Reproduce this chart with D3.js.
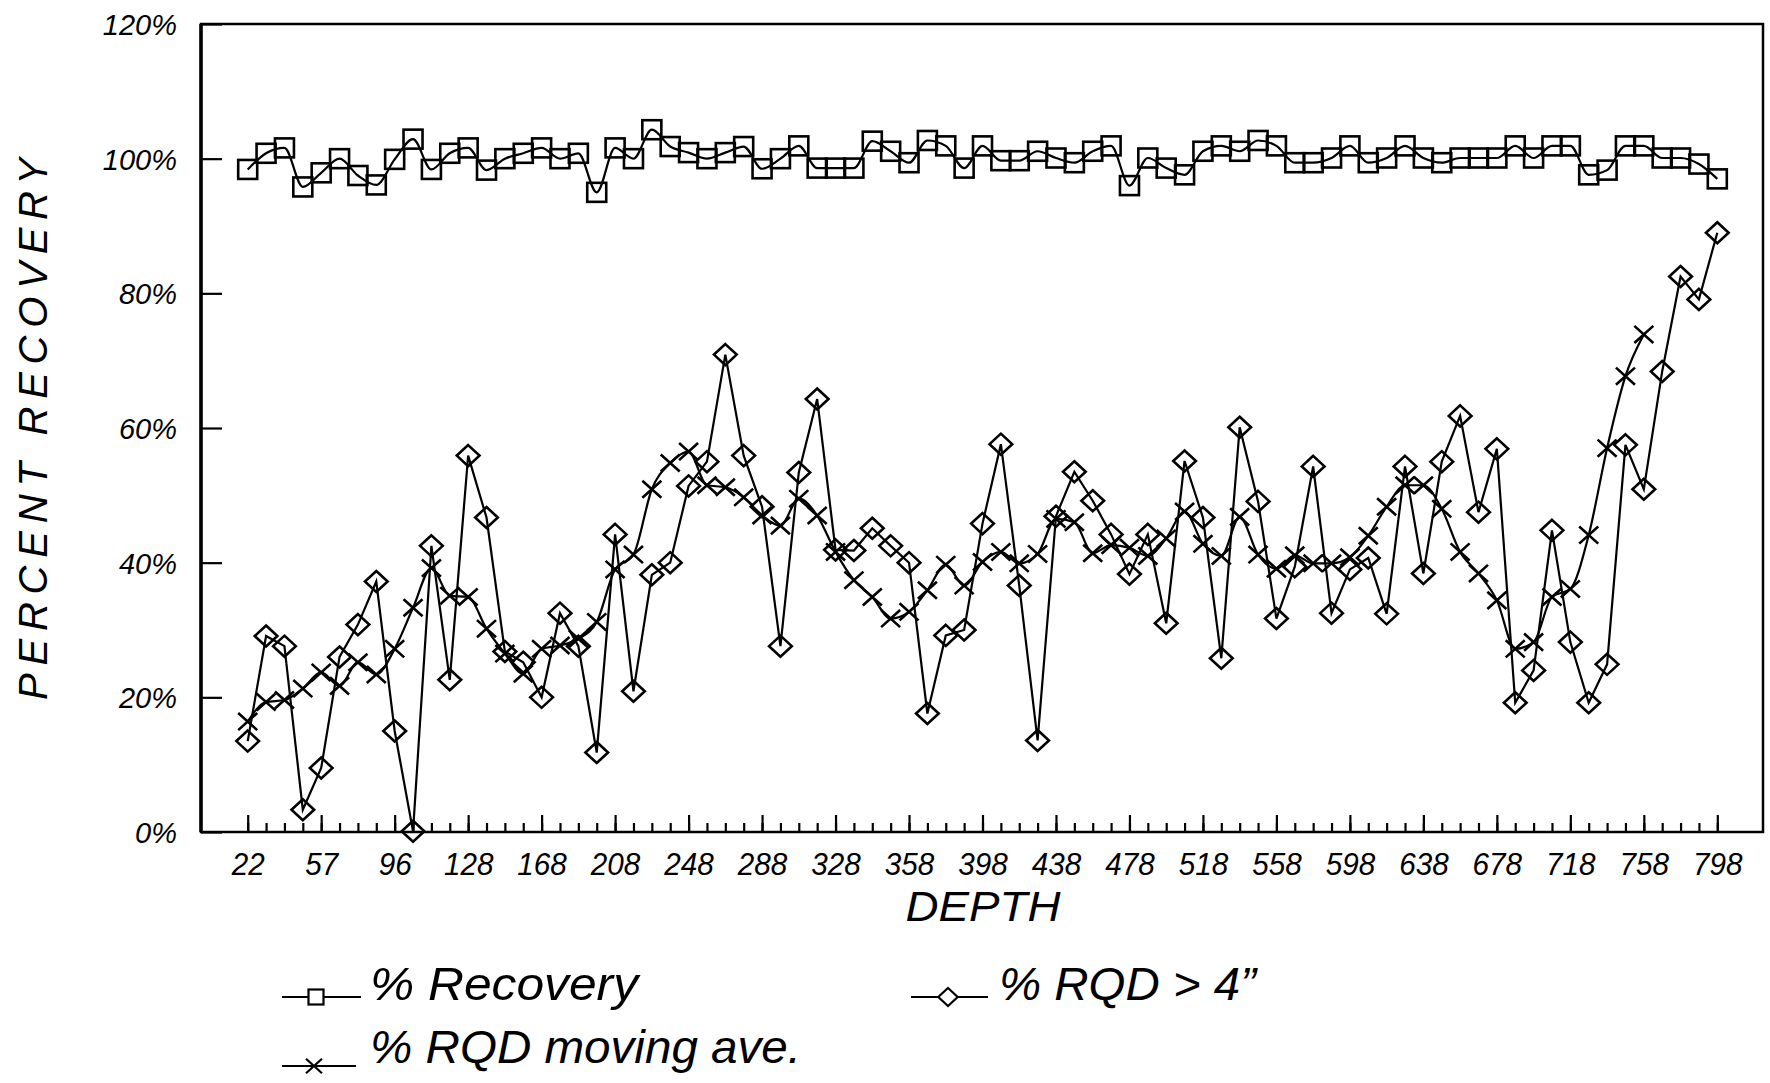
<!DOCTYPE html>
<html>
<head>
<meta charset="utf-8">
<script src="https://cdn.jsdelivr.net/npm/d3@7"></script>
<style>
  body { margin: 0; background: #fff; }
  svg text { font-family: "Liberation Sans", Arial, sans-serif; font-style: italic; fill: #000; }
</style>
</head>
<body>
<svg id="chart" width="1770" height="1083"></svg>
<script>
// depth labels, one every 4 samples
const depthLabels = [22, 57, 96, 128, 168, 208, 248, 288, 328, 358, 398, 438, 478, 518, 558, 598, 638, 678, 718, 758, 798];
const pointsPerLabel = 4;

const recovery = [
  98.4, 100.8, 101.6, 95.8, 97.9, 100, 97.5, 96.1, 99.9, 102.9,
  98.4, 100.8, 101.6, 98.3, 100, 100.8, 101.6, 100, 100.8, 95,
  101.6, 100, 104.3, 101.8, 100.9, 100, 100.9, 101.8, 98.5, 100,
  101.9, 98.6, 98.6, 98.6, 102.6, 101.1, 99.4, 102.7, 101.9, 98.6,
  101.9, 99.7, 99.7, 101.1, 100.1, 99.4, 101.1, 101.9, 96, 100.1,
  98.6, 97.6, 101.1, 101.9, 101.1, 102.7, 101.9, 99.4, 99.4, 100.1,
  101.9, 99.4, 100.1, 101.9, 100.1, 99.4, 100.1, 100.1, 100.1, 101.9,
  100.1, 101.9, 101.9, 97.6, 98.3, 101.9, 101.9, 100.1, 100.1, 99.2,
  97
];

const rqd = [
  13.5, 29.1, 27.6, 3.3, 9.5, 26, 30.8, 37.2, 15, 0.1,
  42.5, 22.6, 55.9, 46.7, 26.8, 25.2, 20, 32.5, 27.6, 11.8,
  44.2, 20.9, 38.2, 40, 51.4, 55, 70.9, 55.9, 48.3, 27.6,
  53.4, 64.3, 41.9, 41.8, 45.1, 42.5, 40, 17.6, 29.2, 30,
  45.8, 57.6, 36.6, 13.6, 46.9, 53.5, 49.2, 44.2, 38.3, 44.2,
  31, 55.1, 46.7, 25.8, 60.1, 49.1, 31.7, 39.4, 54.3, 32.5,
  39, 40.7, 32.4, 54.3, 38.4, 55, 61.8, 47.5, 56.9, 19.2,
  24, 44.8, 28.2, 19.2, 24.9, 57.5, 50.9, 68.4, 82.5, 79.1,
  89
];

const rqdMovingAve = [
  16.4, 19.3, 19.6, 21.3, 23.7, 21.7, 25.2, 23.4, 27.2, 33.3,
  39.2, 35.1, 34.9, 30.2, 26.5, 23.5, 27.2, 27.7, 28.7, 31.2,
  39, 41.2, 50.9, 54.8, 56.5, 51.5, 51.2, 49.7, 47, 45.5,
  49.5, 47, 41.6, 37.4, 34.9, 31.7, 32.7, 35.9, 39.7, 36.6,
  40.1, 41.6, 39.9, 41.3, 46.5, 46, 41.4, 42.6, 42.2, 41,
  43.6, 47.6, 42.8, 41, 46.8, 41.2, 39.1, 41.1, 39.9, 39.9,
  40.8, 44, 48.3, 51.5, 51.5, 48, 41.6, 38.4, 34.4, 27.2,
  28.2, 34.9, 36.1, 44.1, 57, 67.7, 73.9
];

const yTicks = [0, 20, 40, 60, 80, 100, 120];

const svg = d3.select("#chart");
const frame = {left: 201, right: 1763, top: 24, bottom: 832};

const n = recovery.length;
const x = d3.scalePoint().domain(d3.range(n)).range([247.7, 1717.3]);
const y = d3.scaleLinear().domain([0, 120]).range([frame.bottom, frame.top]);

// frame
svg.append("rect")
  .attr("x", frame.left).attr("y", frame.top)
  .attr("width", frame.right - frame.left).attr("height", frame.bottom - frame.top)
  .attr("fill", "none").attr("stroke", "#000").attr("stroke-width", 2.5);
svg.append("line")
  .attr("x1", frame.left).attr("x2", frame.left).attr("y1", frame.top).attr("y2", frame.bottom)
  .attr("stroke", "#000").attr("stroke-width", 3.5);

// x axis: minor ticks every sample, major every label
const minorAxis = svg.append("g")
  .attr("transform", `translate(0,${frame.bottom})`)
  .call(d3.axisBottom(x).tickValues(d3.range(n)).tickSize(-9).tickFormat(""));
const majorAxis = svg.append("g")
  .attr("transform", `translate(0,${frame.bottom})`)
  .call(d3.axisBottom(x)
    .tickValues(d3.range(0, n, pointsPerLabel))
    .tickSize(-17).tickPadding(20)
    .tickFormat(i => depthLabels[i / pointsPerLabel]));
majorAxis.selectAll("text")
  .attr("font-size", 32)
  .attr("textLength", function () { return this.textContent.length * 16.5; })
  .attr("lengthAdjust", "spacingAndGlyphs");

// y axis
const yAxis = svg.append("g")
  .attr("transform", `translate(${frame.left},0)`)
  .call(d3.axisLeft(y).tickValues(yTicks).tickSize(-21).tickPadding(24).tickFormat(d => d + "%"));
yAxis.selectAll("text").attr("font-size", 29).attr("dy", "0.36em");

[minorAxis, majorAxis, yAxis].forEach(g => {
  g.select(".domain").remove();
  g.selectAll("line").attr("stroke", "#000").attr("stroke-width", 2.2);
});

// axis titles
svg.append("text")
  .attr("transform", "translate(47,429) rotate(-90)")
  .attr("text-anchor", "middle")
  .attr("font-size", 40)
  .attr("textLength", 542).attr("lengthAdjust", "spacing")
  .text("PERCENT RECOVERY");
svg.append("text")
  .attr("x", 983).attr("y", 921)
  .attr("text-anchor", "middle")
  .attr("font-size", 43)
  .attr("textLength", 155).attr("lengthAdjust", "spacingAndGlyphs")
  .text("DEPTH");

// markers
function square(g, cx, cy, s) {
  g.append("rect").attr("x", cx - s / 2).attr("y", cy - s / 2)
    .attr("width", s).attr("height", s);
}
function diamond(g, cx, cy, s) {
  g.append("path").attr("d", `M${cx},${cy - s}L${cx + s * 1.08},${cy}L${cx},${cy + s}L${cx - s * 1.08},${cy}Z`);
}
function cross(g, cx, cy, s) {
  g.append("path").attr("d", `M${cx - s},${cy - s * 0.9}L${cx + s},${cy + s * 0.9}M${cx - s},${cy + s * 0.9}L${cx + s},${cy - s * 0.9}`);
}

const series = [
  {values: recovery, curve: d3.curveMonotoneX, marker: square, size: 19},
  {values: rqdMovingAve, curve: d3.curveMonotoneX, marker: cross, size: 9.5},
  {values: rqd, curve: d3.curveLinear, marker: diamond, size: 10.5}
];

series.forEach(s => {
  const line = d3.line().x((d, i) => x(i)).y(d => y(d)).curve(s.curve);
  svg.append("path")
    .datum(s.values)
    .attr("d", line)
    .attr("fill", "none").attr("stroke", "#000").attr("stroke-width", 2.2);
  const mg = svg.append("g").attr("fill", "none").attr("stroke", "#000").attr("stroke-width", 2.6);
  s.values.forEach((v, i) => s.marker(mg, x(i), y(v), s.size));
});

// legend
const legend = svg.append("g");
const legendItems = [
  {label: "% Recovery", marker: square, size: 15, x1: 282, x2: 361, mx: 316, ly: 997, tx: 370, ty: 1000, tl: 268},
  {label: "% RQD > 4\u201D", marker: diamond, size: 9, x1: 911, x2: 988, mx: 948, ly: 997, tx: 999, ty: 1000, tl: 257},
  {label: "% RQD moving ave.", marker: cross, size: 8, x1: 282, x2: 356, mx: 314, ly: 1066, tx: 370, ty: 1063, tl: 431}
];
legendItems.forEach(d => {
  legend.append("line")
    .attr("x1", d.x1).attr("x2", d.x2).attr("y1", d.ly).attr("y2", d.ly)
    .attr("stroke", "#000").attr("stroke-width", 2.2);
  const mg = legend.append("g").attr("fill", "#fff").attr("stroke", "#000").attr("stroke-width", 2.2);
  d.marker(mg, d.mx, d.ly, d.size);
  legend.append("text")
    .attr("x", d.tx).attr("y", d.ty)
    .attr("font-size", 47)
    .attr("textLength", d.tl).attr("lengthAdjust", "spacingAndGlyphs")
    .text(d.label);
});
</script>
</body>
</html>
